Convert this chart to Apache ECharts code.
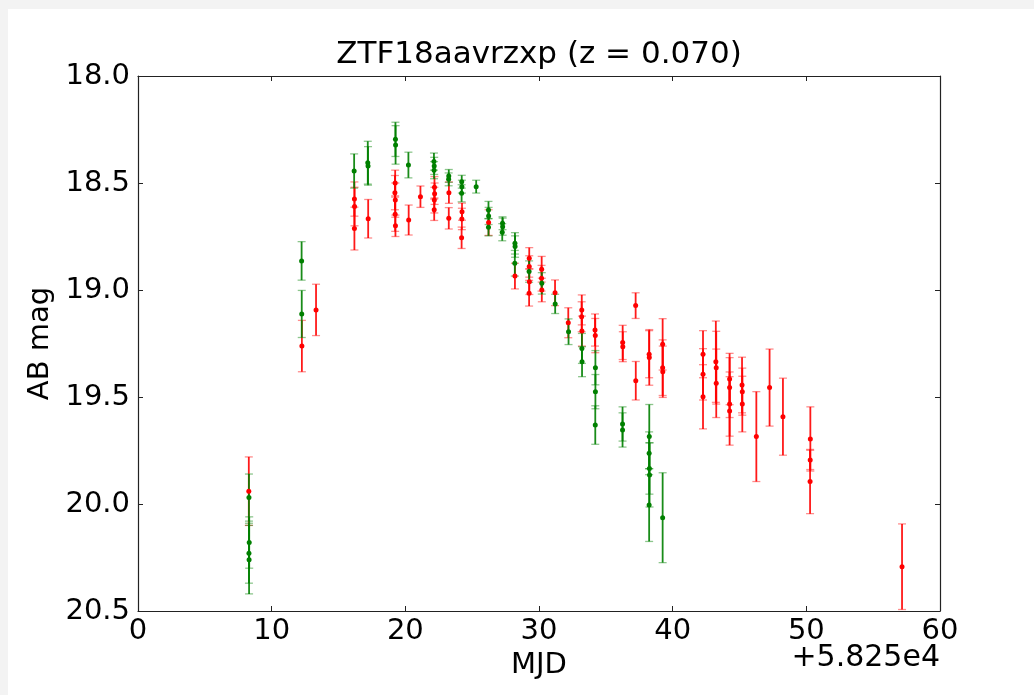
<!DOCTYPE html>
<html>
<head>
<meta charset="utf-8">
<script src="https://cdn.jsdelivr.net/npm/echarts@6/dist/echarts.min.js"></script>
<style>
  html, body { margin: 0; padding: 0; background: #f3f3f3; width: 1034px; height: 695px; overflow: hidden; }
  #chart { position: absolute; left: 8px; top: 9px; width: 1026px; height: 686px; background: #ffffff; }
</style>
</head>
<body>
<div id="chart"></div>
<script>
// ZTF18aavrzxp light curve: g band (green) and r band (red), MJD offset by 58250
const titleText = 'ZTF18aavrzxp (z = 0.070)';
const xTicks = [0, 10, 20, 30, 40, 50, 60];
const yTicks = [18.0, 18.5, 19.0, 19.5, 20.0, 20.5];

// g band
const gMjd = [8.30, 8.32, 8.30, 8.31,
  12.24, 12.25,
  16.17,
  17.19, 17.21,
  19.26, 19.27,
  20.23,
  22.14, 22.16, 22.15,
  23.25, 23.24,
  24.22, 24.23, 24.21,
  25.30,
  26.22, 26.23, 26.22,
  27.27, 27.28, 27.25,
  28.20, 28.21, 28.19,
  29.26,
  30.21,
  31.21,
  32.21,
  33.21, 33.22,
  34.22, 34.22, 34.21,
  36.25, 36.25,
  38.25, 38.24, 38.26, 38.27, 38.24,
  39.25];
const gMag = [19.97, 20.18, 20.23, 20.26,
  18.864, 19.112,
  18.444,
  18.405, 18.420,
  18.296, 18.322,
  18.416,
  18.400, 18.420, 18.440,
  18.467, 18.483,
  18.494, 18.517, 18.548,
  18.517,
  18.626, 18.654, 18.707,
  18.688, 18.704, 18.730,
  18.782, 18.797, 18.875,
  18.914,
  18.969,
  19.065,
  19.195,
  19.273, 19.335,
  19.363, 19.475, 19.631,
  19.626, 19.654,
  19.685, 19.763, 19.834, 19.864, 20.005,
  20.064];
const gErr = [0.11, 0.12, 0.14, 0.16,
  0.09, 0.11,
  0.08,
  0.10, 0.09,
  0.08, 0.09,
  0.06,
  0.04, 0.04, 0.04,
  0.03, 0.03,
  0.03, 0.03, 0.04,
  0.03,
  0.04, 0.04, 0.04,
  0.03, 0.04, 0.04,
  0.05, 0.05, 0.06,
  0.05,
  0.05,
  0.045,
  0.06,
  0.07, 0.07,
  0.08, 0.08, 0.09,
  0.08, 0.08,
  0.15, 0.10, 0.12, 0.15, 0.17,
  0.21];

// r band
const rMjd = [8.29,
  12.26,
  13.32,
  16.19, 16.20, 16.19,
  17.22,
  19.24, 19.22, 19.25, 19.24, 19.26,
  20.25,
  21.13,
  22.18, 22.19, 22.17, 22.16,
  23.26, 23.25,
  24.24, 24.23, 24.21,
  26.23,
  28.20,
  29.27, 29.27, 29.28, 29.26,
  30.20, 30.19, 30.21,
  31.20,
  32.19,
  33.20, 33.19, 33.21,
  34.19, 34.21,
  36.26, 36.27,
  37.23, 37.24,
  38.24, 38.25,
  39.25, 39.25, 39.26,
  42.27, 42.27, 42.27,
  43.23, 43.26, 43.26,
  44.26, 44.26, 44.26, 44.26,
  45.19, 45.21, 45.21,
  46.26,
  47.25,
  48.25,
  50.30, 50.29, 50.28,
  57.16];
const rMag = [19.94,
  19.262,
  19.093,
  18.575, 18.610, 18.713,
  18.667,
  18.500, 18.545, 18.580, 18.646, 18.700,
  18.673,
  18.564,
  18.520, 18.550, 18.580, 18.625,
  18.545, 18.665,
  18.634, 18.668, 18.756,
  18.685,
  18.935,
  18.852, 18.890, 18.961, 19.015,
  18.903, 18.945, 19.000,
  19.013,
  19.153,
  19.093, 19.125, 19.192,
  19.187, 19.213,
  19.245, 19.265,
  19.073, 19.424,
  19.300, 19.315,
  19.254, 19.363, 19.382,
  19.300, 19.394, 19.499,
  19.335, 19.363, 19.436,
  19.416, 19.456, 19.533, 19.565,
  19.444, 19.475, 19.533,
  19.685,
  19.456,
  19.592,
  19.696, 19.794, 19.895,
  20.293];
const rErr = [0.16,
  0.12,
  0.12,
  0.08, 0.09, 0.10,
  0.09,
  0.06, 0.08, 0.08, 0.08, 0.05,
  0.07,
  0.05,
  0.05, 0.05, 0.06, 0.05,
  0.05, 0.05,
  0.04, 0.05, 0.05,
  0.06,
  0.06,
  0.05, 0.05, 0.06, 0.06,
  0.06, 0.06, 0.055,
  0.06,
  0.07,
  0.07, 0.07, 0.07,
  0.075, 0.08,
  0.08, 0.07,
  0.06, 0.09,
  0.11, 0.13,
  0.12, 0.13, 0.12,
  0.11, 0.12, 0.15,
  0.19, 0.17, 0.16,
  0.12, 0.14, 0.15, 0.16,
  0.13, 0.11, 0.13,
  0.21,
  0.18,
  0.18,
  0.15, 0.045, 0.15,
  0.20];

const GREEN = '#008000';
const RED = '#ff0000';
const FONT = 'DejaVu Sans';
const LABEL_SIZE = 29;

// plot box inside the chart container
const GRID = { left: 130, right: 94, top: 67, bottom: 84 };
const CHART_W = 1026;

function errorBars(name, xs, mags, errs, color) {
  return {
    name: name,
    type: 'custom',
    xAxisIndex: 0,
    yAxisIndex: 0,
    data: xs.map((x, i) => [x, mags[i] - errs[i], mags[i] + errs[i]]),
    encode: { x: 0, y: [1, 2] },
    silent: true,
    renderItem: function (params, api) {
      const x = api.value(0);
      const a = api.coord([x, api.value(1)]);
      const b = api.coord([x, api.value(2)]);
      const half = 4;
      const capStyle = { stroke: color, lineWidth: 1.3, opacity: 0.45 };
      return {
        type: 'group',
        children: [
          { type: 'line', shape: { x1: a[0], y1: a[1], x2: b[0], y2: b[1] },
            style: { stroke: color, lineWidth: 1.8, opacity: 0.9 } },
          { type: 'line', shape: { x1: a[0] - half, y1: a[1], x2: a[0] + half, y2: a[1] }, style: capStyle },
          { type: 'line', shape: { x1: b[0] - half, y1: b[1], x2: b[0] + half, y2: b[1] }, style: capStyle }
        ]
      };
    }
  };
}

function points(name, xs, mags, color) {
  return {
    name: name,
    type: 'scatter',
    xAxisIndex: 0,
    yAxisIndex: 0,
    data: xs.map((x, i) => [x, mags[i]]),
    symbol: 'circle',
    symbolSize: 5,
    itemStyle: { color: color, opacity: 1 },
    silent: true
  };
}

const xMin = xTicks[0], xMax = xTicks[xTicks.length - 1];
const yMin = yTicks[0], yMax = yTicks[yTicks.length - 1];

const axisLine = { show: true, onZero: false, lineStyle: { color: '#222', width: 1.2 } };
const tickIn = { show: true, inside: true, length: 5, lineStyle: { color: '#222', width: 1 } };

const chart = echarts.init(document.getElementById('chart'), null, { renderer: 'canvas' });
chart.setOption({
  animation: false,
  backgroundColor: '#ffffff',
  grid: Object.assign({ containLabel: false }, GRID),
  xAxis: [
    {
      type: 'value', position: 'bottom', min: xMin, max: xMax, interval: 10,
      axisLine: axisLine, axisTick: tickIn, splitLine: { show: false },
      axisLabel: { fontFamily: FONT, fontSize: LABEL_SIZE, color: '#000', margin: 6 },
      name: 'MJD', nameLocation: 'middle', nameGap: 36,
      nameTextStyle: { fontFamily: FONT, fontSize: LABEL_SIZE, color: '#000' }
    },
    {
      type: 'value', position: 'top', min: xMin, max: xMax, interval: 10,
      axisLine: axisLine, axisTick: tickIn, splitLine: { show: false },
      axisLabel: { show: false }
    }
  ],
  yAxis: [
    {
      type: 'value', position: 'left', inverse: true, min: yMin, max: yMax, interval: 0.5,
      axisLine: axisLine, axisTick: tickIn, splitLine: { show: false },
      axisLabel: { fontFamily: FONT, fontSize: LABEL_SIZE, color: '#000', margin: 8,
        formatter: v => v.toFixed(1) },
      name: 'AB mag', nameLocation: 'middle', nameGap: 74, nameRotate: 90,
      nameTextStyle: { fontFamily: FONT, fontSize: LABEL_SIZE, color: '#000' }
    },
    {
      type: 'value', position: 'right', inverse: true, min: yMin, max: yMax, interval: 0.5,
      axisLine: axisLine, axisTick: tickIn, splitLine: { show: false },
      axisLabel: { show: false }
    }
  ],
  graphic: [
    {
      // title centred over the plot box
      type: 'text',
      x: GRID.left + (CHART_W - GRID.left - GRID.right) / 2,
      y: GRID.top - 6,
      style: { text: titleText, fontFamily: FONT, fontSize: 31, fill: '#000',
        textAlign: 'center', textVerticalAlign: 'bottom' }
    },
    {
      type: 'text', right: GRID.right, bottom: 22,
      style: { text: '+5.825e4', fontFamily: FONT, fontSize: 30, fill: '#000', textAlign: 'right' }
    }
  ],
  series: [
    errorBars('r err', rMjd, rMag, rErr, RED),
    points('r', rMjd, rMag, RED),
    errorBars('g err', gMjd, gMag, gErr, GREEN),
    points('g', gMjd, gMag, GREEN)
  ]
});
</script>
</body>
</html>
